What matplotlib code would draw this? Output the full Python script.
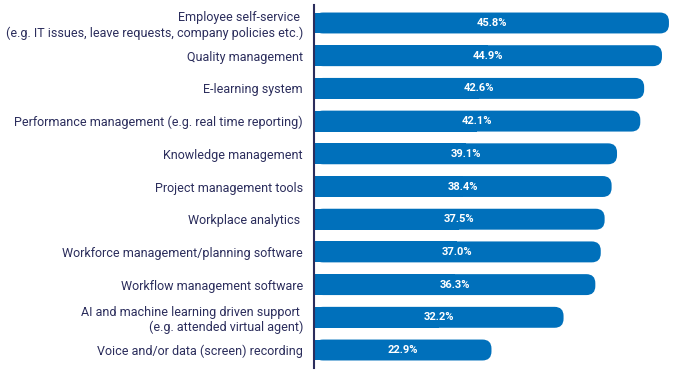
import matplotlib
matplotlib.use("Agg")
from matplotlib import pyplot as plt
from matplotlib.patches import FancyBboxPatch, Rectangle

labels = [
    "Employee self-service \n(e.g. IT issues, leave requests, company policies etc.)",
    "Quality management",
    "E-learning system",
    "Performance management (e.g. real time reporting)",
    "Knowledge management",
    "Project management tools",
    "Workplace analytics ",
    "Workforce management/planning software",
    "Workflow management software",
    "AI and machine learning driven support \n(e.g. attended virtual agent)",
    "Voice and/or data (screen) recording",
]
values = [45.8, 44.9, 42.6, 42.1, 39.1, 38.4, 37.5, 37.0, 36.3, 32.2, 22.9]

bar_color = "#0070bb"
text_color = "#2b2d5c"

plt.rcParams['font.family'] = ['Roboto', 'DejaVu Sans']

fig = plt.figure(figsize=(6.75, 3.73), dpi=100)
ax = fig.add_axes([314 / 675, 5 / 373, 361 / 675, 363 / 373])

xmax = 46.58
ax.set_xlim(0, xmax)
ax.set_ylim(len(values) - 0.45, -0.55)

# px per data unit, used to keep the rounded caps circular
px_x = 361 / xmax
px_y = 363 / (len(values) + 0.1)
h = 0.64
r_px = 9
for i, v in enumerate(values):
    cap = FancyBboxPatch((0, i - h / 2), v, h,
                         boxstyle="round,pad=0,rounding_size=%f" % (r_px / px_x),
                         mutation_aspect=px_x / px_y,
                         facecolor=bar_color, edgecolor="none")
    ax.add_patch(cap)
    ax.add_patch(Rectangle((0, i - h / 2), v / 2, h, facecolor=bar_color, edgecolor="none"))
    ax.text(v / 2, i, "%.1f%%" % v, ha="center", va="center",
            color="white", fontsize=8, fontweight="bold")

ax.set_yticks(range(len(values)))
ax.set_yticklabels(labels, fontsize=9, color=text_color, ha="right", multialignment="right")
ax.tick_params(axis="y", length=0, pad=8)
ax.set_xticks([])
for s in ["top", "right", "bottom"]:
    ax.spines[s].set_visible(False)
ax.spines["left"].set_color(text_color)
ax.spines["left"].set_linewidth(1.5)

fig.savefig("out.png", dpi=100)
